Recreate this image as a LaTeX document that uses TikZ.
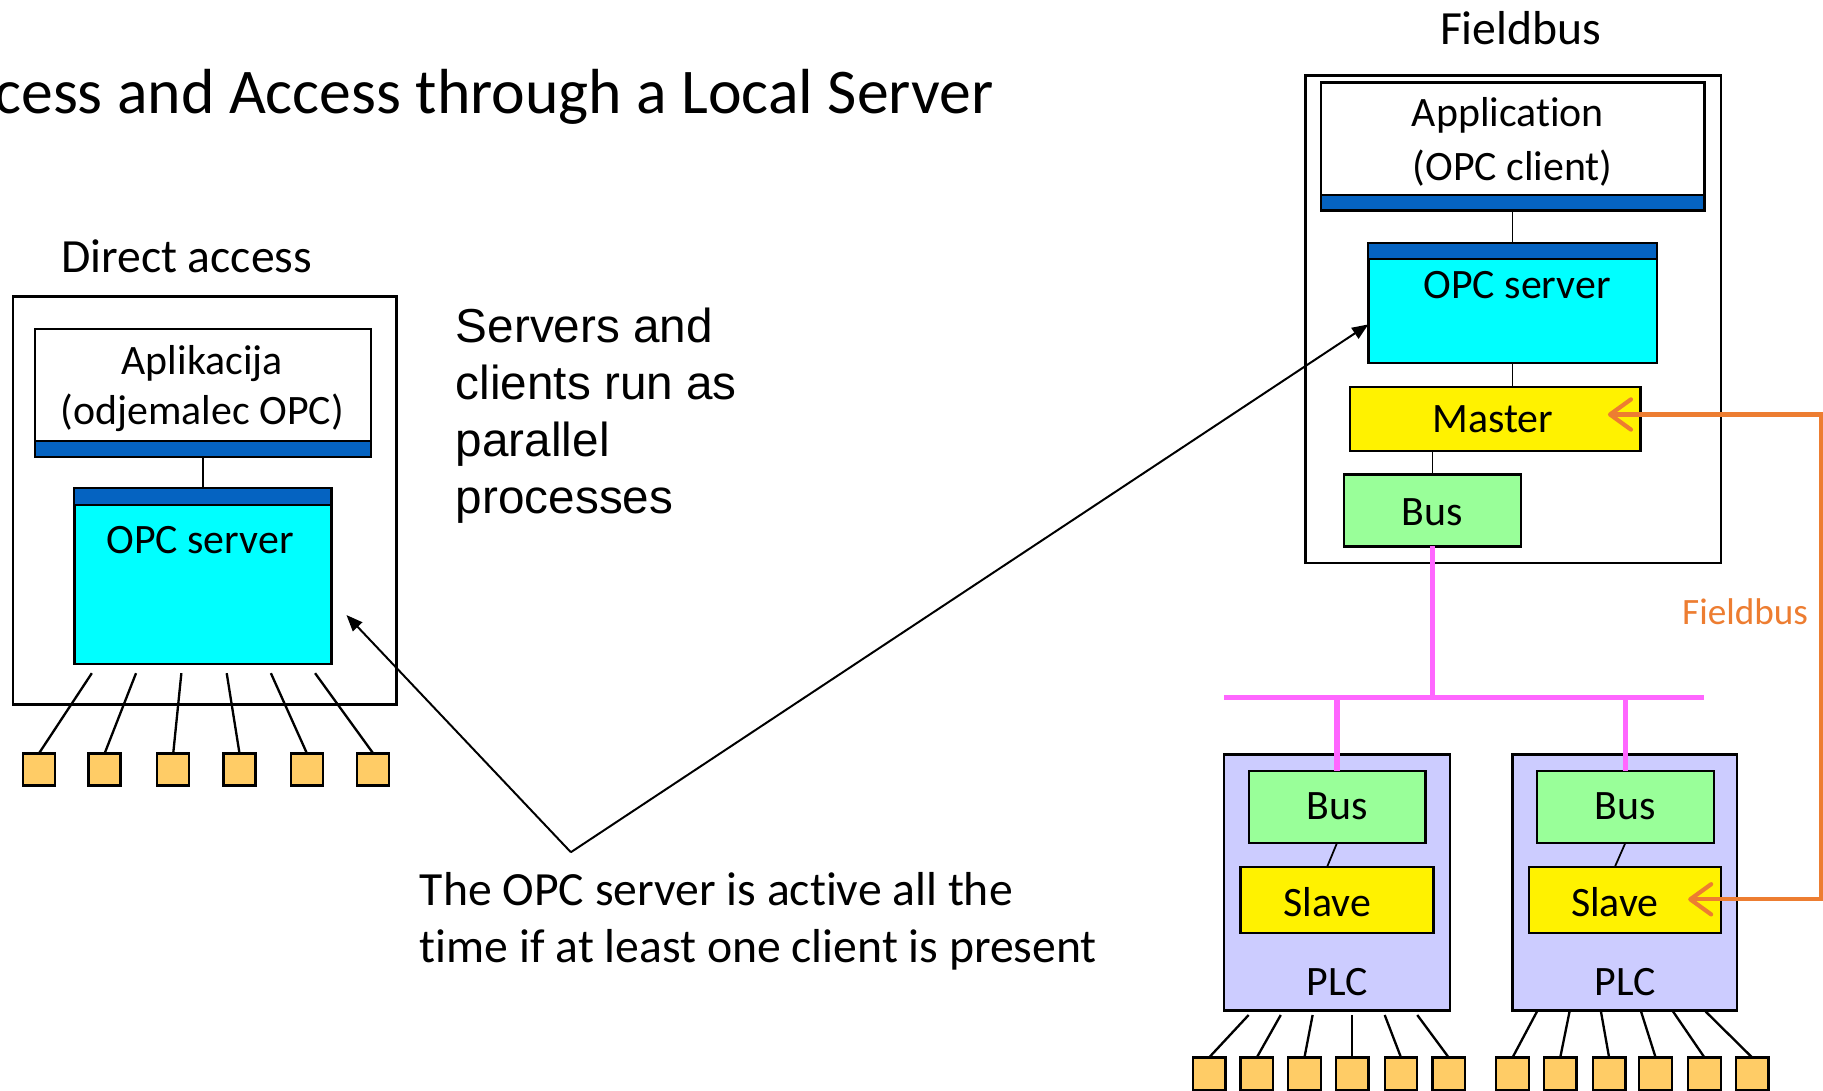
\documentclass[tikz,border=0pt]{standalone}
\usepackage{fontspec}
\setmainfont{Carlito}[Ligatures=NoCommon]
\newfontfamily\arialfont{Liberation Sans}
\usetikzlibrary{arrows.meta,fit}

\definecolor{barblue}{RGB}{5,99,193}
\definecolor{srvcyan}{RGB}{0,255,255}
\definecolor{busgreen}{RGB}{153,255,153}
\definecolor{plclav}{RGB}{204,204,255}
\definecolor{iogold}{RGB}{255,204,102}
\definecolor{buspink}{RGB}{255,102,255}
\definecolor{fborange}{RGB}{237,125,49}

\begin{document}
\begin{tikzpicture}[x=1pt,y=-1pt,
  frame/.style={draw=black,line width=2pt,inner sep=0pt,outer sep=0pt},
  bar/.style={frame,fill=barblue,line width=1.8pt},
  server/.style={frame,fill=srvcyan},
  master/.style={frame,fill=yellow},
  busbox/.style={frame,fill=busgreen},
  plc/.style={frame,fill=plclav},
  io/.style={frame,fill=iogold,minimum width=27.5pt,minimum height=27.5pt,anchor=north},
  link/.style={draw=black,line width=1.5pt},
  wire/.style={draw=black,line width=2pt},
  fbus/.style={draw=buspink,line width=4.5pt},
  pointer/.style={draw=black,line width=1.7pt,-{Triangle[length=14pt,width=11pt]}},
  fieldlink/.style={draw=fborange,line width=3.6pt,
    {Straight Barb[length=18pt,width=26pt,round]}-{Straight Barb[length=18pt,width=26pt,round]}},
  lbl/.style={inner sep=0pt,anchor=base,font=\fontsize{36}{43}\selectfont},
  head/.style={inner sep=0pt,anchor=base,font=\fontsize{41}{49}\selectfont},
  note/.style={inner sep=0pt,anchor=base west,font=\fontsize{41}{49}\selectfont},
  arialnote/.style={inner sep=0pt,anchor=base west,font=\arialfont\fontsize{41}{49}\selectfont},
]
\useasboundingbox (0,0) rectangle (1568,938);
\clip (0,0) rectangle (1568,938);
\fill[white] (0,0) rectangle (1568,938);

% slide title, running off the left edge
\node[inner sep=0pt,anchor=base east,font=\fontsize{54.8}{60}\selectfont] (title) at (855,98)
  {cess and Access through a Local Server};

% ---------------- direct access ----------------
\node[head] (directT) at (160.5,234) {Direct access};
\node[frame,fit={(11,255) (341,606)}] (outerL) {};
\node[frame,fit={(30,283) (319,393)}] (appL) {};
\node[bar,fit={(30,379) (319,393)}] (appLbar) {};
\node[lbl] (appLt1) at (174,322) {Aplikacija};
\node[lbl] (appLt2) at (174,365) {(odjemalec OPC)};
\node[server,fit={(64,420) (285,571)}] (srvL) {};
\node[bar,fit={(64,420) (285,434)}] (srvLbar) {};
\node[lbl] (srvLt) at (172,476) {OPC server};
\draw[link] (appLbar.south) -- (srvLbar.north);

\foreach \i/\xt/\xb in {1/79/33.5,2/117/90,3/156/149,4/195/206,5/233/264,6/271/321}{
  \node[io] (ioL\i) at (\xb,648) {};
  \coordinate (wL\i) at (\xt,579);
  \draw[wire] (wL\i) -- (ioL\i.north);
}

% ---------------- notes ----------------
\node[arialnote] (par1) at (392,294.5) {Servers and};
\node[arialnote] (par2) at (392,343.5) {clients run as};
\node[arialnote] (par3) at (392,392.8) {parallel};
\node[arialnote] (par4) at (392,441.5) {processes};

\node[note] (act1) at (361,779) {The OPC server is active all the};
\node[note] (act2) at (361,828) {time if at least one client is present};

\coordinate (vtx) at (491,733);
\coordinate (tipL) at (298,529);
\coordinate (tipR) at (1177,279);
\draw[pointer] (vtx) -- (tipL);
\draw[pointer] (vtx) -- (tipR);

% ---------------- fieldbus station ----------------
\node[head] (fieldT) at (1308,38) {Fieldbus};
\node[frame,fit={(1123,65) (1480,484)}] (outerR) {};
\node[frame,fit={(1136,71) (1466,181)}] (appR) {};
\node[bar,fit={(1136,168) (1466,181)}] (appRbar) {};
\node[lbl] (appRt1) at (1297,109) {Application};
\node[lbl] (appRt2) at (1301,155) {(OPC client)};
\node[server,fit={(1177,209) (1425,312)}] (srvR) {};
\node[bar,fit={(1177,209) (1425,223)}] (srvRbar) {};
\node[lbl] (srvRt) at (1305,257) {OPC server};
\node[master,fit={(1161,333) (1411,388)}] (masterR) {};
\node[lbl] (masterRt) at (1284,372) {Master};
\node[busbox,fit={(1156,408) (1308,470)}] (busR) {};
\node[lbl] (busRt) at (1232,452) {Bus};
\draw[link] (appRbar.south) -- (srvRbar.north);
\draw[link] (srvR.south) -- (srvR.south |- masterR.north);
\draw[link] (busR.north |- masterR.south) -- (busR.north);

% ---------------- PLCs ----------------
\node[plc,fit={(1053,649) (1247,869)}] (plc1) {};
\node[plc,fit={(1301,649) (1494,869)}] (plc2) {};
\node[busbox,fit={(1074,663) (1226,725)}] (busP1) {};
\node[busbox,fit={(1322,663) (1474,725)}] (busP2) {};
\node[master,fit={(1067,745.5) (1233,802.5)}] (slaveP1) {};
\node[master,fit={(1315,745.5) (1480,802.5)}] (slaveP2) {};
\node[lbl] (busP1t) at (1150,705) {Bus};
\node[lbl] (busP2t) at (1398,705) {Bus};
\node[lbl] (slaveP1t) at (1141.5,788) {Slave};
\node[lbl] (slaveP2t) at (1389,788) {Slave};
\node[lbl] (plc1t) at (1150,856) {PLC};
\node[lbl] (plc2t) at (1398,856) {PLC};
\draw[link] (busP1.south) -- ([xshift=-8.5pt]slaveP1.north);
\draw[link] (busP2.south) -- ([xshift=-8.5pt]slaveP2.north);

\foreach \i/\xt/\xb in {1/1074/1040,2/1101.6/1081,3/1129/1122,4/1163/1163,5/1191/1205,6/1219/1246}{
  \node[io,minimum width=28pt,minimum height=28pt] (ioA\i) at (\xb,909.5) {};
  \coordinate (wA\i) at (\xt,873);
  \draw[wire] (wA\i) -- (ioA\i.north);
}
\foreach \i/\xt/\xb in {1/1322/1301,2/1350/1342,3/1377/1384,4/1411.5/1424,5/1439/1466,6/1467/1507}{
  \node[io,minimum width=28pt,minimum height=28pt] (ioB\i) at (\xb,909.5) {};
  \coordinate (wB\i) at (\xt,870);
  \draw[wire] (wB\i) -- (ioB\i.north);
}

% ---------------- bus wiring ----------------
\coordinate (trunkW) at (1053,600);
\coordinate (trunkE) at (1466,600);
\draw[fbus] (trunkW) -- (trunkE);
\draw[fbus] (busR.south) -- (busR.south |- trunkW);
\draw[fbus] (busP1.north |- trunkW) -- (busP1.north);
\draw[fbus] (busP2.north |- trunkW) -- (busP2.north);

% ---------------- logical fieldbus link ----------------
\coordinate (tipM) at (1383,356.5);
\coordinate (tipS) at (1452,773.5);
\coordinate (fbE) at (1566,0);
\draw[fieldlink] (tipS) -- (fbE |- tipS) -- (fbE |- tipM) -- (tipM);
\node[inner sep=0pt,anchor=base,font=\fontsize{32}{38}\selectfont,text=fborange] (fbT) at (1501,537) {Fieldbus};
\end{tikzpicture}
\end{document}
